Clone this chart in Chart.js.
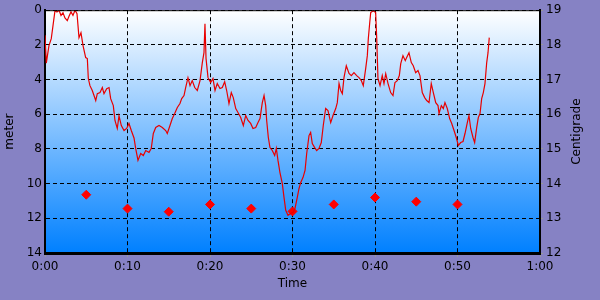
<!DOCTYPE html>
<html>
<head>
<meta charset="utf-8">
<script src="https://cdn.jsdelivr.net/npm/chart.js@4"></script>
<style>
body { margin: 0; background: #8682c4; }
canvas { display: block; }
</style>
</head>
<body>
<canvas id="chart" width="600" height="300"></canvas>
<script>
// depth track, time in minutes
const depthTimes = [
  0, 0.16, 0.30, 0.48, 0.76, 0.97, 1.21, 1.45, 1.70, 1.94,
  2.18, 2.42, 2.70, 2.91, 3.15, 3.39, 3.64, 3.88, 4.12, 4.36,
  4.61, 4.93, 5.13, 5.25, 5.45, 5.73, 6.15, 6.34, 6.67, 6.95,
  7.15, 7.48, 7.76, 7.96, 8.28, 8.48, 8.76, 8.97, 9.25, 9.58,
  9.90, 10.18, 10.46, 10.79, 10.99, 11.27, 11.60, 11.92, 12.21, 12.61,
  12.88, 13.13, 13.42, 13.82, 14.22, 14.63, 14.82, 15.15, 15.43, 15.72,
  16.04, 16.36, 16.57, 16.85, 17.05, 17.33, 17.58, 17.85, 18.15, 18.46,
  18.79, 19.07, 19.27, 19.39, 19.52, 19.76, 20.08, 20.36, 20.61, 20.88,
  21.21, 21.49, 21.78, 22.02, 22.30, 22.58, 22.82, 23.12, 23.39, 23.72,
  24.04, 24.33, 24.61, 24.93, 25.21, 25.54, 25.82, 26.06, 26.34, 26.55,
  26.75, 26.87, 27.07, 27.27, 27.55, 27.84, 28.04, 28.24, 28.48, 28.76,
  28.97, 29.18, 29.45, 29.78, 30.06, 30.30, 30.58, 30.79, 31.00, 31.27,
  31.52, 31.72, 32.00, 32.20, 32.40, 32.69, 32.93, 33.21, 33.49, 33.73,
  34.02, 34.30, 34.63, 34.91, 35.24, 35.43, 35.64, 35.84, 36.04, 36.24,
  36.52, 36.85, 37.13, 37.45, 37.78, 38.06, 38.34, 38.58, 38.87, 39.07,
  39.19, 39.36, 39.48, 39.79, 40.08, 40.21, 40.36, 40.61, 40.88, 41.09,
  41.30, 41.58, 41.90, 42.18, 42.42, 42.70, 42.95, 43.12, 43.39, 43.67,
  43.84, 44.12, 44.40, 44.64, 44.93, 45.21, 45.45, 45.73, 46.02, 46.27,
  46.55, 46.82, 47.07, 47.36, 47.64, 47.76, 48.04, 48.28, 48.48, 48.76,
  49.05, 49.30, 49.58, 49.85, 50.10, 50.39, 50.67, 50.91, 51.19, 51.39,
  51.60, 51.88, 52.08, 52.33, 52.52, 52.73, 52.93, 53.13, 53.33, 53.54,
  53.70, 53.85
]
const depthMeters = [
  1.45, 3.05, 2.60, 2.04, 1.64, 0.89, 0.03, 0.10, 0.00, 0.30,
  0.15, 0.45, 0.60, 0.35, 0.10, 0.30, 0.00, 0.20, 1.58, 1.30,
  2.04, 2.73, 2.79, 3.94, 4.35, 4.63, 5.21, 4.81, 4.75, 4.46,
  4.81, 4.52, 4.46, 5.10, 5.50, 6.36, 6.82, 6.09, 6.65, 6.94,
  6.82, 6.53, 6.94, 7.37, 7.97, 8.66, 8.26, 8.38, 8.09, 8.20,
  7.97, 7.11, 6.76, 6.65, 6.76, 6.94, 7.11, 6.65, 6.25, 5.96,
  5.61, 5.38, 5.10, 4.92, 4.46, 3.89, 4.35, 4.06, 4.46, 4.63,
  4.06, 3.02, 2.45, 0.78, 2.79, 3.89, 4.17, 3.94, 4.63, 4.23,
  4.52, 4.46, 4.12, 4.63, 5.38, 4.75, 5.04, 5.67, 5.90, 6.19,
  6.65, 6.07, 6.36, 6.53, 6.82, 6.76, 6.48, 6.25, 5.33, 4.92,
  5.50, 6.36, 7.34, 7.92, 8.09, 8.38, 7.97, 8.66, 9.36, 9.99,
  10.79, 11.54, 11.83, 11.72, 11.66, 11.43, 10.79, 10.28, 9.93, 9.65,
  9.24, 8.26, 7.23, 7.05, 7.69, 7.92, 8.09, 7.97, 7.63, 6.65,
  5.67, 5.79, 6.48, 6.07, 5.67, 5.33, 4.23, 4.63, 4.81, 3.89,
  3.20, 3.65, 3.77, 3.60, 3.77, 3.89, 4.06, 4.35, 3.37, 2.62,
  1.64, 0.72, 0.14, 0.03, 0.14, 1.64, 3.94, 4.35, 3.77, 4.23,
  3.66, 4.23, 4.75, 4.92, 4.17, 4.06, 3.77, 3.08, 2.62, 2.91,
  2.73, 2.45, 3.02, 3.20, 3.60, 3.48, 3.77, 4.75, 5.04, 5.21,
  5.33, 4.23, 4.75, 5.33, 5.50, 5.96, 5.50, 5.67, 5.33, 5.67,
  6.25, 6.53, 6.94, 7.34, 7.80, 7.63, 7.57, 7.11, 6.48, 6.07,
  6.82, 7.34, 7.63, 6.76, 6.19, 5.96, 5.10, 4.75, 4.23, 3.02,
  2.45, 1.58
]
// water temperature samples every 5 minutes
const tempTimes = [5, 10, 15, 20, 25, 30, 35, 40, 45, 50]
const tempValues = [13.68, 13.28, 13.19, 13.4, 13.28, 13.2, 13.4, 13.6, 13.48, 13.4]

const xTickLabels = ['0:00', '0:10', '0:20', '0:30', '0:40', '0:50', '1:00']

const font = { family: 'DejaVu Sans', size: 12 }

const plotBg = {
  id: 'plotBg',
  beforeDraw(chart) {
    const { ctx, chartArea: a } = chart
    ctx.save()
    ctx.fillStyle = '#8682c4'
    ctx.fillRect(0, 0, chart.width, chart.height)
    const g = ctx.createLinearGradient(0, a.top, 0, a.bottom)
    g.addColorStop(0, '#ffffff')
    g.addColorStop(1, '#0080ff')
    ctx.fillStyle = g
    ctx.fillRect(a.left, a.top, a.right - a.left, a.bottom - a.top)
    ctx.restore()
  },
  afterDraw(chart) {
    const { ctx, chartArea: a } = chart
    ctx.save()
    ctx.strokeStyle = '#000'
    ctx.lineWidth = 1
    ctx.beginPath()
    ctx.moveTo(a.left, a.top + 0.5)
    ctx.lineTo(a.right, a.top + 0.5)
    ctx.stroke()
    // right axis title reads bottom to top
    ctx.translate(577, (a.top + a.bottom) / 2)
    ctx.rotate(-Math.PI / 2)
    ctx.font = '12px "DejaVu Sans"'
    ctx.fillStyle = '#000'
    ctx.textAlign = 'center'
    ctx.textBaseline = 'middle'
    ctx.fillText('Centigrade', 0, 0)
    ctx.restore()
  }
}

new Chart(document.getElementById('chart'), {
  data: {
    datasets: [{
      type: 'line',
      data: depthTimes.map((t, i) => ({ x: t, y: depthMeters[i] })),
      borderColor: '#e80000',
      borderWidth: 1.2,
      pointRadius: 0,
      tension: 0,
      xAxisID: 'x',
      yAxisID: 'y'
    }, {
      type: 'scatter',
      data: tempTimes.map((t, i) => ({ x: t, y: tempValues[i] })),
      backgroundColor: '#ff0000',
      borderColor: '#ff0000',
      pointStyle: 'rectRot',
      pointRadius: 4.5,
      xAxisID: 'x',
      yAxisID: 'y2'
    }]
  },
  options: {
    responsive: false,
    animation: false,
    devicePixelRatio: 1,
    layout: { padding: { top: 9, left: 0, right: 0, bottom: 0 } },
    plugins: { legend: { display: false }, tooltip: { enabled: false } },
    scales: {
      x: {
        type: 'linear', min: 0, max: 60,
        afterFit: s => { s.height = 47 },
        ticks: {
          stepSize: 10, color: '#000', font: font, padding: 3, maxRotation: 0,
          callback: (v) => xTickLabels[v / 10]
        },
        grid: { color: '#000', lineWidth: 1, tickColor: '#999', tickLength: 4 },
        border: { color: '#000', width: 3, dash: [4, 3] },
        title: { display: true, text: 'Time', color: '#000', font: font, padding: { top: 0, bottom: 9 } }
      },
      y: {
        position: 'left', min: 0, max: 14, reverse: true,
        afterFit: s => { s.width = 45 },
        ticks: { stepSize: 2, color: '#000', font: font, padding: 3 },
        grid: { color: '#000', lineWidth: 1, drawTicks: false },
        border: { color: '#000', width: 2, dash: [4, 3] },
        title: { display: true, text: 'meter', color: '#000', font: font, padding: { top: 3, bottom: 0 } }
      },
      y2: {
        position: 'right', min: 12, max: 19,
        afterFit: s => { s.width = 60 },
        ticks: { stepSize: 1, color: '#000', font: font, padding: 3 },
        grid: { drawOnChartArea: false, tickColor: '#999', tickLength: 3 },
        border: { color: '#000', width: 2 }
      }
    }
  },
  plugins: [plotBg]
})
</script>
</body>
</html>
